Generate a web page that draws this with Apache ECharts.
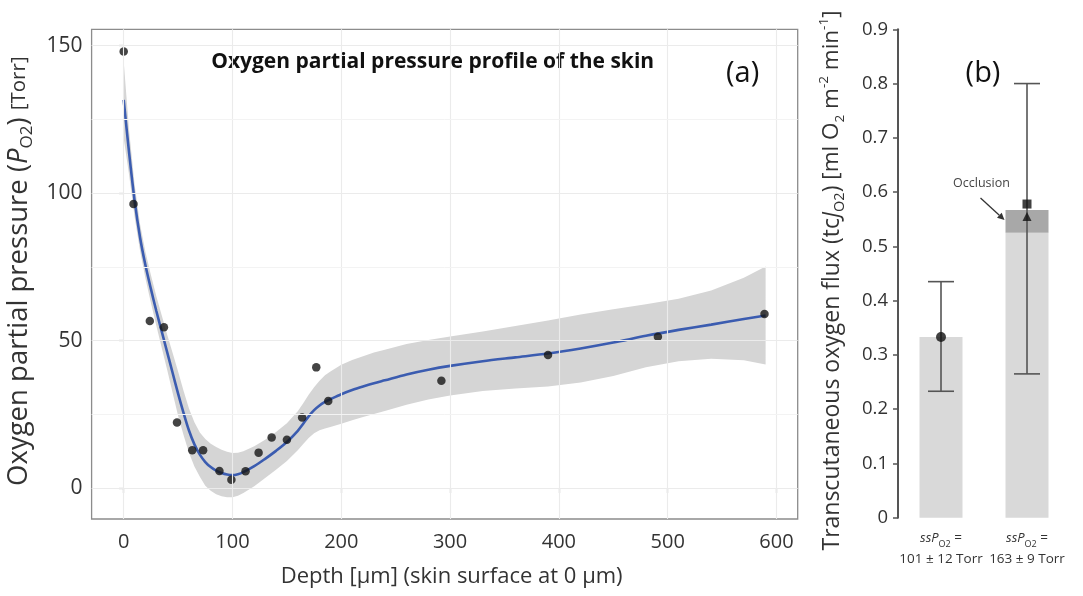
<!DOCTYPE html>
<html><head><meta charset="utf-8">
<script src="https://cdn.jsdelivr.net/npm/echarts@6/dist/echarts.min.js"></script>
<style>html,body{margin:0;padding:0;background:#fff}#c{width:1083px;height:596px}</style>
</head><body><div id="c"></div>
<script>
// ---- Panel (a): measured points ----
const depth = [0, 9, 24, 37, 49, 63, 73, 88, 99, 112, 124, 136, 150, 164, 177, 188, 292, 390, 491, 589];
const po2 = [148, 96.3, 56.6, 54.5, 22.2, 12.8, 12.8, 5.8, 2.8, 5.7, 12.0, 17.1, 16.4, 23.9, 40.9, 29.5, 36.4, 45.1, 51.3, 59.0];
// ---- Panel (a): smooth fit and confidence band ----
const fitX = [0,5,10,15,20,25,30,35,40,45,50,55,60,65,70,75,80,85,90,95,100,105,110,120,130,140,150,160,165,170,175,180,185,190,200,210,220,230,240,260,280,300,330,360,390,420,450,480,510,540,570,590];
const fitY = [131.6,113.5,97.5,85,75.5,67.5,60,53,46,39,32,25.5,19.5,14.8,11.3,8.8,7.1,5.9,5.1,4.6,4.4,4.7,5.4,7.4,9.9,12.6,15.6,19.4,21.8,24.3,26.4,28,29.2,30.1,31.8,33.2,34.4,35.5,36.5,38.5,40.1,41.4,43,44.3,45.6,47.3,49.3,51.6,53.6,55.4,57.3,58.5];
const fitUpper = [144.6,121,103,89.5,80,72.2,65,58.5,52,45.8,39.5,33,27,22.3,18.8,16.6,15,13.9,13,12.3,11.9,12,12.5,14.2,16.4,19,22,26,28.7,31.6,34.2,36.4,38.2,39.5,41.8,43.4,44.7,45.9,46.9,48.8,50.2,51.4,53.1,54.9,56.8,58.8,60.6,62.3,64.2,67,71.3,75.1];
const fitLower = [118.6,106,92,80.5,71,62.8,55,47.5,40,32.2,24.5,18,12,7.3,3.8,0.8,-0.9,-2.1,-2.8,-3.1,-3.1,-2.6,-1.7,0.6,3.4,6.2,9.2,12.8,14.9,17,18.6,19.6,20.2,20.7,21.8,23,24.1,25.1,26.1,28.2,30,31.4,32.9,33.7,34.4,35.8,38,40.9,43,43.8,43.3,41.9];
const xTicks = [0, 100, 200, 300, 400, 500, 600];
const yTicks = [0, 50, 100, 150];
const yMinorTicks = [25, 75, 125];

// ---- Panel (b) ----
const bCategories = ['101 ± 12 Torr', '163 ± 9 Torr'];
const bBase = [0.333, 0.525];
const bOcclusion = [0, 0.042];
const bErrLow = [0.233, 0.265];
const bErrHigh = [0.435, 0.8];
const bCircle = [[0, 0.333]];
const bSquare = [[1, 0.578]];
const bTriangle = [[1, 0.555]];

const FF = '"Open Sans", "Noto Sans", sans-serif';
const TXT = '#333';

const chart = echarts.init(document.getElementById('c'), null, {renderer: 'canvas'});

const option = {
  animation: false,
  backgroundColor: '#fff',
  textStyle: {fontFamily: FF},
  grid: [
    {left: 91.6, right: 285.3, top: 29.3, bottom: 77, show: true, borderColor: '#8c8c8c', borderWidth: 1.3, backgroundColor: 'transparent', containLabel: false, outerBoundsMode: 'none'},
    {left: 898, right: 13, top: 29.3, bottom: 78.3, containLabel: false, outerBoundsMode: 'none'}
  ],
  xAxis: [
    {
      type: 'value', gridIndex: 0, min: -29.5, max: 619.5,
      axisLine: {show: false},
      axisTick: {show: true, length: 5, customValues: xTicks, lineStyle: {color: '#8c8c8c', width: 1.2}},
      axisLabel: {customValues: xTicks, fontSize: 20, color: TXT, margin: 13, fontFamily: FF},
      splitLine: {show: false},
      name: 'Depth [μm] (skin surface at 0 μm)', nameLocation: 'middle', nameGap: 47,
      nameTextStyle: {fontSize: 22, color: TXT, fontFamily: FF, padding: [0, 0, 0, 14]}
    },
    {
      type: 'category', gridIndex: 1, data: bCategories,
      axisLine: {show: false}, axisTick: {show: false}, splitLine: {show: false},
      axisLabel: {
        margin: 10, interval: 0, color: TXT, fontFamily: FF,
        formatter: v => '{it|ssP}{sub|O2}{n| =}\n{n|' + v + '}',
        rich: {
          it: {fontStyle: 'italic', fontSize: 13, lineHeight: 21, color: TXT, fontFamily: FF},
          sub: {fontSize: 9, lineHeight: 12, verticalAlign: 'bottom', color: TXT, fontFamily: FF},
          n: {fontSize: 13.5, lineHeight: 21, color: TXT, fontFamily: FF}
        }
      }
    }
  ],
  yAxis: [
    {
      type: 'value', gridIndex: 0, min: -10.5, max: 155.5,
      axisLine: {show: false},
      axisTick: {show: true, length: 5, customValues: yTicks, lineStyle: {color: '#8c8c8c', width: 1.2}},
      axisLabel: {customValues: yTicks, fontSize: 21, color: TXT, margin: 9, fontFamily: FF},
      splitLine: {show: false},
      name: 'Oxygen partial pressure ({i|P}{sub|O2}) {s|[Torr]}', nameLocation: 'middle', nameRotate: 90, nameGap: 52,
      nameTextStyle: {
        fontSize: 27.5, color: TXT, fontFamily: FF, lineHeight: 33, padding: [0, 0, 0, 6],
        rich: {
          i: {fontStyle: 'italic', fontSize: 27.5, lineHeight: 33, color: TXT, fontFamily: FF},
          sub: {fontSize: 17, lineHeight: 19, verticalAlign: 'bottom', color: TXT, fontFamily: FF},
          s: {fontSize: 20.5, lineHeight: 33, color: TXT, fontFamily: FF}
        }
      }
    },
    {
      type: 'value', gridIndex: 1, min: 0, max: 0.9, interval: 0.1,
      axisLine: {show: true, lineStyle: {color: '#555', width: 2}},
      axisTick: {show: true, length: 5, lineStyle: {color: '#555', width: 1.5}},
      axisLabel: {fontSize: 18.5, color: TXT, margin: 10, fontFamily: FF, formatter: v => v === 0 ? '0' : v.toFixed(1)},
      splitLine: {show: false},
      name: '{a|Transcutaneous oxygen flux (tc}{ai|J}{sub|O2}{a|)} [ml O{sub2|2} m{sup|-2} min{sup|-1}]',
      nameLocation: 'middle', nameRotate: 90, nameGap: 51,
      nameTextStyle: {
        fontSize: 22.5, color: TXT, fontFamily: FF, lineHeight: 30, padding: [0, 14, 0, 0],
        rich: {
          a: {fontSize: 23, lineHeight: 30, color: TXT, fontFamily: FF},
          ai: {fontSize: 23, lineHeight: 30, fontStyle: 'italic', color: TXT, fontFamily: FF},
          sub: {fontSize: 14.5, lineHeight: 16, verticalAlign: 'bottom', color: TXT, fontFamily: FF},
          sub2: {fontSize: 13.5, lineHeight: 15, verticalAlign: 'bottom', color: TXT, fontFamily: FF},
          sup: {fontSize: 13.5, lineHeight: 15, verticalAlign: 'top', color: TXT, fontFamily: FF}
        }
      }
    }
  ],
  series: [
    {
      type: 'line', xAxisIndex: 0, yAxisIndex: 0, data: [], z: 1, silent: true,
      markLine: {
        silent: true, symbol: ['none', 'none'], label: {show: false}, animation: false,
        emphasis: {disabled: true},
        lineStyle: {color: '#ebebeb', width: 1.1, type: 'solid'},
        data: [
          ...xTicks.map(v => ({xAxis: v})),
          ...yTicks.map(v => ({yAxis: v})),
          ...yMinorTicks.map(v => ({yAxis: v, lineStyle: {color: '#f3f3f3', width: 1, type: 'solid'}}))
        ]
      }
    },
    {
      type: 'custom', xAxisIndex: 0, yAxisIndex: 0, z: 2, silent: true,
      data: [[fitX[0], fitY[0]]],
      renderItem: (params, api) => {
        const pts = [];
        for (let i = 0; i < fitX.length; i++) pts.push(api.coord([fitX[i], fitUpper[i]]));
        for (let i = fitX.length - 1; i >= 0; i--) pts.push(api.coord([fitX[i], fitLower[i]]));
        return {type: 'polygon', shape: {points: pts}, style: {fill: '#d5d5d5', stroke: null}};
      }
    },
    {
      type: 'line', xAxisIndex: 0, yAxisIndex: 0, z: 3, silent: true,
      data: fitX.map((x, i) => [x, fitY[i]]),
      smooth: 0.3, showSymbol: false,
      lineStyle: {color: '#3b5cb0', width: 2.6}
    },
    {
      type: 'scatter', xAxisIndex: 0, yAxisIndex: 0, z: 4, silent: true,
      data: depth.map((x, i) => [x, po2[i]]),
      symbolSize: 8.5, itemStyle: {color: '#151515'}
    },
    // panel b
    {
      type: 'bar', xAxisIndex: 1, yAxisIndex: 1, stack: 'b', barWidth: 43, silent: true,
      data: bBase, itemStyle: {color: '#d9d9d9'}
    },
    {
      type: 'bar', xAxisIndex: 1, yAxisIndex: 1, stack: 'b', barWidth: 43, silent: true,
      data: bOcclusion, itemStyle: {color: '#a8a8a8'}
    },
    {
      type: 'custom', xAxisIndex: 1, yAxisIndex: 1, z: 5, silent: true,
      data: bErrLow.map((l, i) => [i, l, bErrHigh[i]]),
      encode: {x: 0, y: [1, 2]},
      renderItem: (params, api) => {
        const lo = api.coord([api.value(0), api.value(1)]);
        const hi = api.coord([api.value(0), api.value(2)]);
        const hw = 13;
        const st = {stroke: '#555', lineWidth: 1.6};
        return {type: 'group', children: [
          {type: 'line', shape: {x1: lo[0], y1: lo[1], x2: hi[0], y2: hi[1]}, style: st},
          {type: 'line', shape: {x1: lo[0] - hw, y1: lo[1], x2: lo[0] + hw, y2: lo[1]}, style: st},
          {type: 'line', shape: {x1: hi[0] - hw, y1: hi[1], x2: hi[0] + hw, y2: hi[1]}, style: st}
        ]};
      }
    },
    {type: 'scatter', xAxisIndex: 1, yAxisIndex: 1, z: 6, silent: true, data: bCircle, symbol: 'circle', symbolSize: 10, itemStyle: {color: '#111'}},
    {type: 'scatter', xAxisIndex: 1, yAxisIndex: 1, z: 6, silent: true, data: bSquare, symbol: 'rect', symbolSize: 9, itemStyle: {color: '#111'}},
    {type: 'scatter', xAxisIndex: 1, yAxisIndex: 1, z: 6, silent: true, data: bTriangle, symbol: 'triangle', symbolSize: 9, itemStyle: {color: '#111'}}
  ]
};
chart.setOption(option);

// annotations placed via the library's coordinate conversion
const gA = chart.getModel().getComponent('grid', 0).coordinateSystem.getRect();
const topB = chart.convertToPixel({xAxisIndex: 1, yAxisIndex: 1}, [1, bBase[1] + bOcclusion[1]]);
const barLeft = topB[0] - 21.5;
const ax0 = chart.convertToPixel({xAxisIndex: 1, yAxisIndex: 1}, [0, 0.9]);
const ex = barLeft - 1, ey = topB[1] + 10, sx = barLeft - 25, sy = topB[1] - 12;
const ang = Math.atan2(ey - sy, ex - sx);
const ah = 7, aw = 3.5;
const bx = ex - ah * Math.cos(ang), by = ey - ah * Math.sin(ang);
chart.setOption({
  graphic: [
    {type: 'text', x: gA.x + gA.width * 0.483, y: 62, style: {text: 'Oxygen partial pressure profile of the skin', font: 'bold 21px ' + FF, fill: '#111', align: 'center', verticalAlign: 'middle'}},
    {type: 'text', x: gA.x + gA.width * 0.922, y: 74, style: {text: '(a)', font: '29px ' + FF, fill: '#111', align: 'center', verticalAlign: 'middle'}},
    {type: 'text', x: ax0[0] + 42, y: 74, style: {text: '(b)', font: '29px ' + FF, fill: '#111', align: 'center', verticalAlign: 'middle'}},
    {type: 'text', x: sx + 1, y: topB[1] - 27, style: {text: 'Occlusion', font: '12.5px ' + FF, fill: '#444', align: 'center', verticalAlign: 'middle'}},
    {type: 'line', shape: {x1: sx, y1: sy, x2: bx, y2: by}, style: {stroke: '#333', lineWidth: 1.3}},
    {type: 'polygon', shape: {points: [[ex, ey], [bx + aw * Math.sin(ang), by - aw * Math.cos(ang)], [bx - aw * Math.sin(ang), by + aw * Math.cos(ang)]]}, style: {fill: '#333'}}
  ]
});
</script>
</body></html>
